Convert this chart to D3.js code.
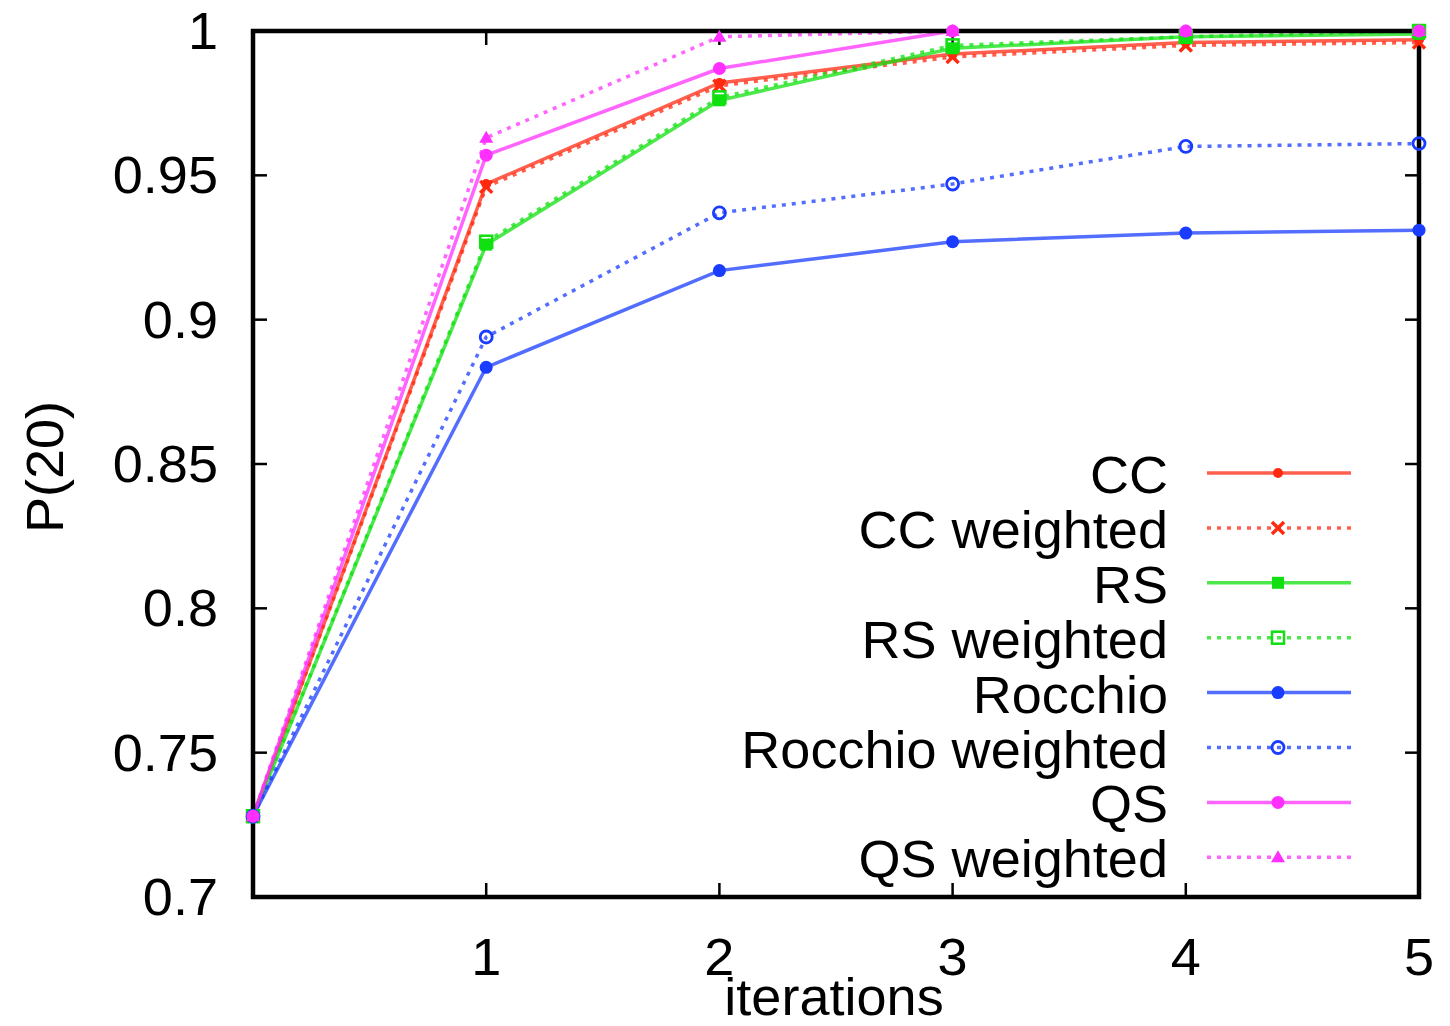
<!DOCTYPE html>
<html>
<head>
<meta charset="utf-8">
<script src="https://cdn.jsdelivr.net/npm/d3@7"></script>
<style>
html,body{margin:0;padding:0;background:#fff;}
svg{display:block;font-family:"Liberation Sans",Arial,Helvetica,sans-serif;}
</style>
</head>
<body>
<svg id="chart" width="1450" height="1026"></svg>
<script>
const iterations = [0, 1, 2, 3, 4, 5];
const xTicks = [1, 2, 3, 4, 5];
const yTicks = [0.7, 0.75, 0.8, 0.85, 0.9, 0.95, 1];
const yTickLabels = ["0.7", "0.75", "0.8", "0.85", "0.9", "0.95", "1"];
const seriesNames = ["CC", "CC weighted", "RS", "RS weighted", "Rocchio", "Rocchio weighted", "QS", "QS weighted"];
const cc = [0.728, 0.947, 0.982, 0.992, 0.996, 0.997];
const ccWeighted = [0.728, 0.946, 0.981, 0.991, 0.995, 0.996];
const rs = [0.728, 0.926, 0.976, 0.994, 0.998, 0.999];
const rsWeighted = [0.728, 0.927, 0.977, 0.995, 0.998, 1.0];
const rocchio = [0.728, 0.8835, 0.917, 0.927, 0.930, 0.931];
const rocchioWeighted = [0.728, 0.894, 0.937, 0.947, 0.960, 0.961];
const qs = [0.728, 0.957, 0.987, 1.0, 1.0, 1.0];
const qsWeighted = [0.728, 0.963, 0.998, 1.0, 1.0, 1.0];

const seriesValues = [cc, ccWeighted, rs, rsWeighted, rocchio, rocchioWeighted, qs, qsWeighted];
const styles = [
  {color: "#ff2a10", dash: null, marker: "dot"},
  {color: "#ff2a10", dash: "4,6", marker: "cross"},
  {color: "#10e010", dash: null, marker: "fbox"},
  {color: "#10e010", dash: "4,6", marker: "obox"},
  {color: "#1a3cff", dash: null, marker: "fcircle"},
  {color: "#1a3cff", dash: "4,6", marker: "ocircle"},
  {color: "#ff30ff", dash: null, marker: "fcircle"},
  {color: "#ff30ff", dash: "4,6", marker: "triangle"}
];

const svg = d3.select("#chart");
const L = 253, R = 1419, T = 31, B = 897;
const x = d3.scaleLinear().domain([0, 5]).range([L, R]);
const y = d3.scaleLinear().domain([0.7, 1]).range([B, T]);
const FS = 51;
const SX = 1.06;

function txt(g, tx, ty, anchor, s, rot) {
  return g.append("text")
    .attr("transform", `translate(${tx},${ty})` + (rot ? ` rotate(${rot})` : "") + ` scale(${SX},1)`)
    .attr("text-anchor", anchor).attr("font-size", FS).attr("fill", "#000").text(s);
}

// ticks (inward, mirrored)
const tk = svg.append("g").attr("stroke", "#000").attr("stroke-width", 2.5);
xTicks.forEach(v => {
  tk.append("line").attr("x1", x(v)).attr("x2", x(v)).attr("y1", B).attr("y2", B - 14);
  tk.append("line").attr("x1", x(v)).attr("x2", x(v)).attr("y1", T).attr("y2", T + 14);
});
yTicks.forEach(v => {
  tk.append("line").attr("x1", L).attr("x2", L + 14).attr("y1", y(v)).attr("y2", y(v));
  tk.append("line").attr("x1", R).attr("x2", R - 14).attr("y1", y(v)).attr("y2", y(v));
});

// tick labels
const yl = svg.append("g");
yTicks.forEach((v, i) => txt(yl, 218, y(v) + 18, "end", yTickLabels[i]));
const xl = svg.append("g");
xTicks.forEach(v => txt(xl, x(v), 975, "middle", String(v)));

// axis titles
txt(svg, 834, 1015, "middle", "iterations");
txt(svg, 63, 467, "middle", "P(20)", -90);

// lines
const line = d3.line().x((d, i) => x(iterations[i])).y(d => y(d));
const linesG = svg.append("g");
seriesValues.forEach((vals, k) => {
  const st = styles[k];
  linesG.append("path").datum(vals).attr("d", line)
    .attr("fill", "none").attr("stroke", st.color).attr("stroke-width", 3.5)
    .attr("stroke-opacity", 0.75)
    .attr("stroke-dasharray", st.dash);
});

// frame
svg.append("rect").attr("x", L).attr("y", T).attr("width", R - L).attr("height", B - T)
  .attr("fill", "none").attr("stroke", "#000").attr("stroke-width", 4.5);

function drawMarker(g, type, cx, cy, color) {
  const s = 6;
  if (type === "dot") {
    g.append("circle").attr("cx", cx).attr("cy", cy).attr("r", 5).attr("fill", color);
  } else if (type === "cross") {
    g.append("path").attr("d", `M${cx-s},${cy-s}L${cx+s},${cy+s}M${cx-s},${cy+s}L${cx+s},${cy-s}`)
      .attr("stroke", color).attr("stroke-width", 3.5);
  } else if (type === "fbox") {
    g.append("rect").attr("x", cx - s).attr("y", cy - s).attr("width", 2 * s).attr("height", 2 * s).attr("fill", color);
  } else if (type === "obox") {
    g.append("rect").attr("x", cx - s).attr("y", cy - s).attr("width", 2 * s).attr("height", 2 * s)
      .attr("fill", "none").attr("stroke", color).attr("stroke-width", 2.5);
  } else if (type === "fcircle") {
    g.append("circle").attr("cx", cx).attr("cy", cy).attr("r", 6.5).attr("fill", color);
  } else if (type === "ocircle") {
    g.append("circle").attr("cx", cx).attr("cy", cy).attr("r", 6).attr("fill", "none")
      .attr("stroke", color).attr("stroke-width", 2.8);
  } else if (type === "triangle") {
    g.append("path").attr("d", `M${cx},${cy-7}L${cx+7},${cy+5}L${cx-7},${cy+5}Z`).attr("fill", color);
  }
}

// markers
const mk = svg.append("g");
seriesValues.forEach((vals, k) => {
  vals.forEach((v, i) => drawMarker(mk, styles[k].marker, x(iterations[i]), y(v), styles[k].color));
});

// legend
const leg = svg.append("g");
seriesNames.forEach((name, k) => {
  const ly = 473 + k * 54.9;
  const st = styles[k];
  txt(leg, 1168, ly + 20, "end", name);
  leg.append("line").attr("x1", 1207).attr("x2", 1351).attr("y1", ly).attr("y2", ly)
    .attr("stroke", st.color).attr("stroke-width", 3.5).attr("stroke-opacity", 0.75)
    .attr("stroke-dasharray", st.dash);
  drawMarker(leg, st.marker, 1278, ly, st.color);
});
</script>
</body>
</html>
